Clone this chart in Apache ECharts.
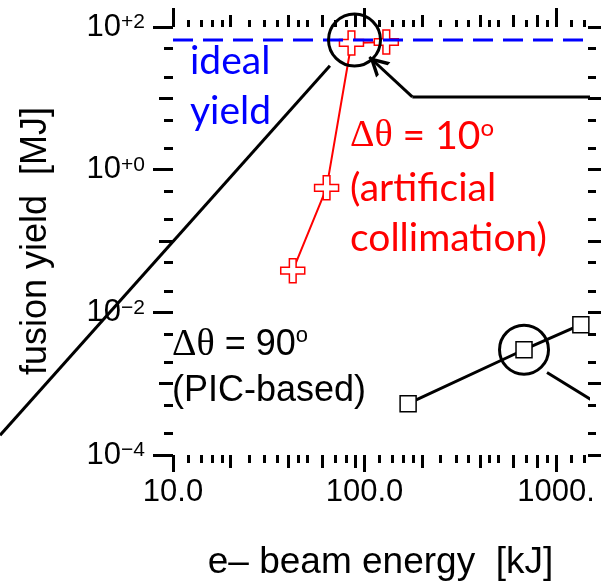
<!DOCTYPE html>
<html>
<head>
<meta charset="utf-8">
<script src="https://cdn.jsdelivr.net/npm/echarts@6/dist/echarts.min.js"></script>
<style>
  html, body { margin: 0; padding: 0; background: #fff; }
  #chart { width: 601px; height: 586px; }
</style>
</head>
<body>
<div id="chart"></div>
<script>
// Axis ranges (kJ on x, MJ on y)
const xMin = 10, xMax = 1470;
const yMin = 1e-4, yMax = 100;

// Tick values and labels
const xMajorTicks = [10, 100, 1000];
const xTickLabels = ['10.0', '100.0', '1000.'];
const xMidTicks = [20, 40, 60, 90, 200, 400, 600, 800];
const xMinorTicks = [12, 14, 16, 18, 25, 30, 35, 45, 50, 70, 80,
                     120, 140, 160, 180, 250, 300, 350, 450, 500, 700, 900, 1200, 1400];
const yMajorTicks = [1e-4, 1e-2, 1, 100];
const yTickExponents = ['\u22124', '\u22122', '+0', '+2'];
const yMidTicks = [1e-3, 0.1, 10];
const yMinorTicks = [2e-4, 5e-4, 2e-3, 5e-3, 0.02, 0.05, 0.2, 0.5, 2, 5, 20, 50];

// Ideal (cubic) scaling line, end points
const idealScaling = [[1.25, 0.000195], [66, 28.7]];
// Ideal fusion yield level [MJ]
const idealYield = 65.8;

// Δθ = 10° (artificial collimation)
const collimatedEnergy = [42.2, 63.4, 85.5, 130];
const collimatedYield = [0.0383, 0.556, 59.7, 61.6];

// Δθ = 90° (PIC-based)
const picEnergy = [169, 681, 1349];
const picYield = [0.000525, 0.00299, 0.0067];

// Annotation rings and pointers (data coordinates)
const ringTop = [88.7, 65.8];
const ringPic = [681, 0.00299];
const pointerTop = [[2128, 10.46], [177.8, 10.46], [106, 38]];
const pointerPic = [[898, 0.00143], [2128, 0.000345]];

const LOG = v => Math.log10(v);
const TICK_COLOR = '#000';

// Plot frame
const W = 601, H = 586;
const frame = { left: 173, right: 13, top: 27, bottom: 130 };
const plotWidth = W - frame.left - frame.right;
const pxPerDecade = plotWidth / (LOG(xMax) - LOG(xMin));
// A second, wider grid reaching the left edge of the canvas carries the
// ideal-scaling line, which continues past the left side of the frame.
const xMinWide = Math.pow(10, LOG(xMin) - frame.left / pxPerDecade);

function xTickAxis(position, values, length, extra) {
  return Object.assign({
    type: 'value', position: position, gridIndex: 0,
    min: LOG(xMin), max: LOG(xMax),
    axisLine: { show: false, onZero: false },
    axisTick: { show: true, inside: false, length: length, customValues: values.map(LOG),
                lineStyle: { color: TICK_COLOR, width: 3 } },
    axisLabel: { show: false },
    splitLine: { show: false }
  }, extra || {});
}
function yTickAxis(position, values, length, extra) {
  return Object.assign({
    type: 'value', position: position, gridIndex: 0,
    min: LOG(yMin), max: LOG(yMax),
    axisLine: { show: false, onZero: false },
    axisTick: { show: true, inside: false, length: length, customValues: values.map(LOG),
                lineStyle: { color: TICK_COLOR, width: 3 } },
    axisLabel: { show: false },
    splitLine: { show: false }
  }, extra || {});
}
function matchIndex(list, v) {
  return list.findIndex(t => Math.abs(LOG(t) - v) < 1e-6);
}

const plusSymbol = 'path://M9,0 H16 V9 H25 V16 H16 V25 H9 V16 H0 V9 H9 Z';
// Open chevron, tip placed at the symbol centre
const chevronSymbol = 'path://M10.5,-19 M0,19 L10.5,0 L21,19 L17,19 L10.5,7 L4,19 Z';

const chart = echarts.init(document.getElementById('chart'), null, { renderer: 'canvas' });

const option = {
  animation: false,
  backgroundColor: '#fff',
  grid: [
    { left: frame.left, right: frame.right, top: frame.top, bottom: frame.bottom, containLabel: false },
    { left: 0, right: frame.right, top: frame.top, bottom: frame.bottom, containLabel: false }
  ],
  xAxis: [
    { type: 'log', logBase: 10, min: xMin, max: xMax, show: false, gridIndex: 0 },
    xTickAxis('bottom', xMajorTicks, 17, {
      axisLabel: {
        show: true, customValues: xMajorTicks.map(LOG), margin: 22,
        fontFamily: 'Liberation Sans', fontSize: 31, color: '#000',
        formatter: v => xTickLabels[matchIndex(xMajorTicks, v)]
      },
      name: 'e\u2013 beam energy  [kJ]', nameLocation: 'middle', nameGap: 89,
      nameTextStyle: { fontFamily: 'Liberation Sans', fontSize: 37, color: '#000' }
    }),
    xTickAxis('bottom', xMidTicks, 13),
    xTickAxis('bottom', xMinorTicks, 8),
    xTickAxis('top', xMajorTicks, 19),
    xTickAxis('top', xMidTicks, 12),
    xTickAxis('top', xMinorTicks, 7),
    { type: 'log', logBase: 10, min: xMinWide, max: xMax, show: false, gridIndex: 1 }
  ],
  yAxis: [
    { type: 'log', logBase: 10, min: yMin, max: yMax, show: false, gridIndex: 0 },
    yTickAxis('left', yMajorTicks, 20, {
      axisLabel: {
        show: true, customValues: yMajorTicks.map(LOG), margin: 28,
        formatter: v => '{b|10}{s|' + yTickExponents[matchIndex(yMajorTicks, v)] + '}',
        rich: {
          b: { fontFamily: 'Liberation Sans', fontSize: 31, color: '#000', lineHeight: 30 },
          s: { fontFamily: 'Liberation Sans', fontSize: 21, color: '#000', lineHeight: 16, verticalAlign: 'top' }
        }
      },
      name: 'fusion yield  [MJ]', nameLocation: 'middle', nameGap: 119, nameRotate: 90,
      nameTextStyle: { fontFamily: 'Liberation Sans', fontSize: 36, color: '#000' }
    }),
    yTickAxis('left', yMidTicks, 14),
    yTickAxis('left', yMinorTicks, 9),
    yTickAxis('right', yMajorTicks, 14),
    yTickAxis('right', yMidTicks, 14),
    yTickAxis('right', yMinorTicks, 8),
    { type: 'log', logBase: 10, min: yMin, max: yMax, show: false, gridIndex: 1 }
  ],
  series: [
    {
      name: 'ideal scaling', type: 'line', xAxisIndex: 7, yAxisIndex: 7,
      data: idealScaling, symbol: 'none', clip: false, z: 3,
      lineStyle: { color: '#000', width: 3 }
    },
    {
      name: 'Δθ = 10°', type: 'line', xAxisIndex: 0, yAxisIndex: 0,
      data: collimatedEnergy.map((e, i) => [e, collimatedYield[i]]),
      symbol: plusSymbol, symbolSize: 24, clip: false, z: 4,
      lineStyle: { color: '#ff0000', width: 2 },
      itemStyle: { color: '#fff', borderColor: '#ff0000', borderWidth: 1.5 }
    },
    {
      name: 'ideal yield', type: 'line', xAxisIndex: 0, yAxisIndex: 0,
      data: [[xMin, idealYield], [xMax, idealYield]], symbol: 'none', z: 5,
      lineStyle: { color: '#0000ff', width: 3, type: [20, 10] }
    },
    {
      name: 'Δθ = 90°', type: 'line', xAxisIndex: 0, yAxisIndex: 0,
      data: picEnergy.map((e, i) => [e, picYield[i]]),
      symbol: 'rect', symbolSize: 16, clip: false, z: 4,
      lineStyle: { color: '#000', width: 3 },
      itemStyle: { color: '#fff', borderColor: '#000', borderWidth: 1.5 }
    },
    {
      name: 'rings', type: 'scatter', xAxisIndex: 0, yAxisIndex: 0, clip: false, z: 6,
      data: [
        { value: ringTop, symbolSize: 52 },
        { value: ringPic, symbolSize: 49 }
      ],
      symbol: 'circle',
      itemStyle: { color: 'rgba(0,0,0,0)', borderColor: '#000', borderWidth: 3, opacity: 1 }
    },
    {
      name: 'pointer PIC', type: 'line', xAxisIndex: 0, yAxisIndex: 0,
      data: pointerPic, symbol: 'none', clip: false, z: 6,
      lineStyle: { color: '#000', width: 3 }
    },
    {
      name: 'pointer top', type: 'line', xAxisIndex: 0, yAxisIndex: 0,
      data: pointerTop.slice(0, 2), symbol: 'none', clip: false, z: 6,
      lineStyle: { color: '#000', width: 3 },
      markLine: {
        silent: true, animation: false,
        symbol: ['none', chevronSymbol], symbolSize: [21, 38],
        label: { show: false },
        lineStyle: { color: '#000', width: 3, type: 'solid' },
        data: [[{ coord: pointerTop[1] }, { coord: pointerTop[2] }]]
      }
    }
  ],
  graphic: [
    { type: 'text', left: 190, top: 42, z: 10,
      style: { text: 'ideal', font: '39px Lato', fill: '#0000ff' } },
    { type: 'text', left: 190, top: 92, z: 10,
      style: { text: 'yield', font: '39px Lato', fill: '#0000ff' } },
    { type: 'text', left: 350, top: 116, z: 10,
      style: {
        text: '{g|Δθ}{t| = 10}{s|o}',
        rich: {
          g: { fontFamily: 'Liberation Serif', fontSize: 38, fill: '#ff0000', lineHeight: 40 },
          t: { fontFamily: 'Lato', fontSize: 39, fill: '#ff0000', lineHeight: 40 },
          s: { fontFamily: 'Lato', fontSize: 24, fill: '#ff0000', lineHeight: 20, verticalAlign: 'top' }
        }
      } },
    { type: 'text', left: 350, top: 169, z: 10,
      style: { text: '(artificial', font: '39px Lato', fill: '#ff0000' } },
    { type: 'text', left: 350, top: 219, z: 10,
      style: { text: 'collimation)', font: '39px Lato', fill: '#ff0000' } },
    { type: 'text', left: 172, top: 325, z: 10,
      style: {
        text: '{g|Δθ}{t| = 90}{s|o}',
        rich: {
          g: { fontFamily: 'Liberation Serif', fontSize: 38, fill: '#000', lineHeight: 40 },
          t: { fontFamily: 'Liberation Sans', fontSize: 36, fill: '#000', lineHeight: 40 },
          s: { fontFamily: 'Liberation Sans', fontSize: 22, fill: '#000', lineHeight: 20, verticalAlign: 'top' }
        }
      } },
    { type: 'text', left: 172, top: 373, z: 10,
      style: { text: '(PIC-based)', font: '36px Liberation Sans', fill: '#000' } }
  ]
};

chart.setOption(option);
</script>
</body>
</html>
